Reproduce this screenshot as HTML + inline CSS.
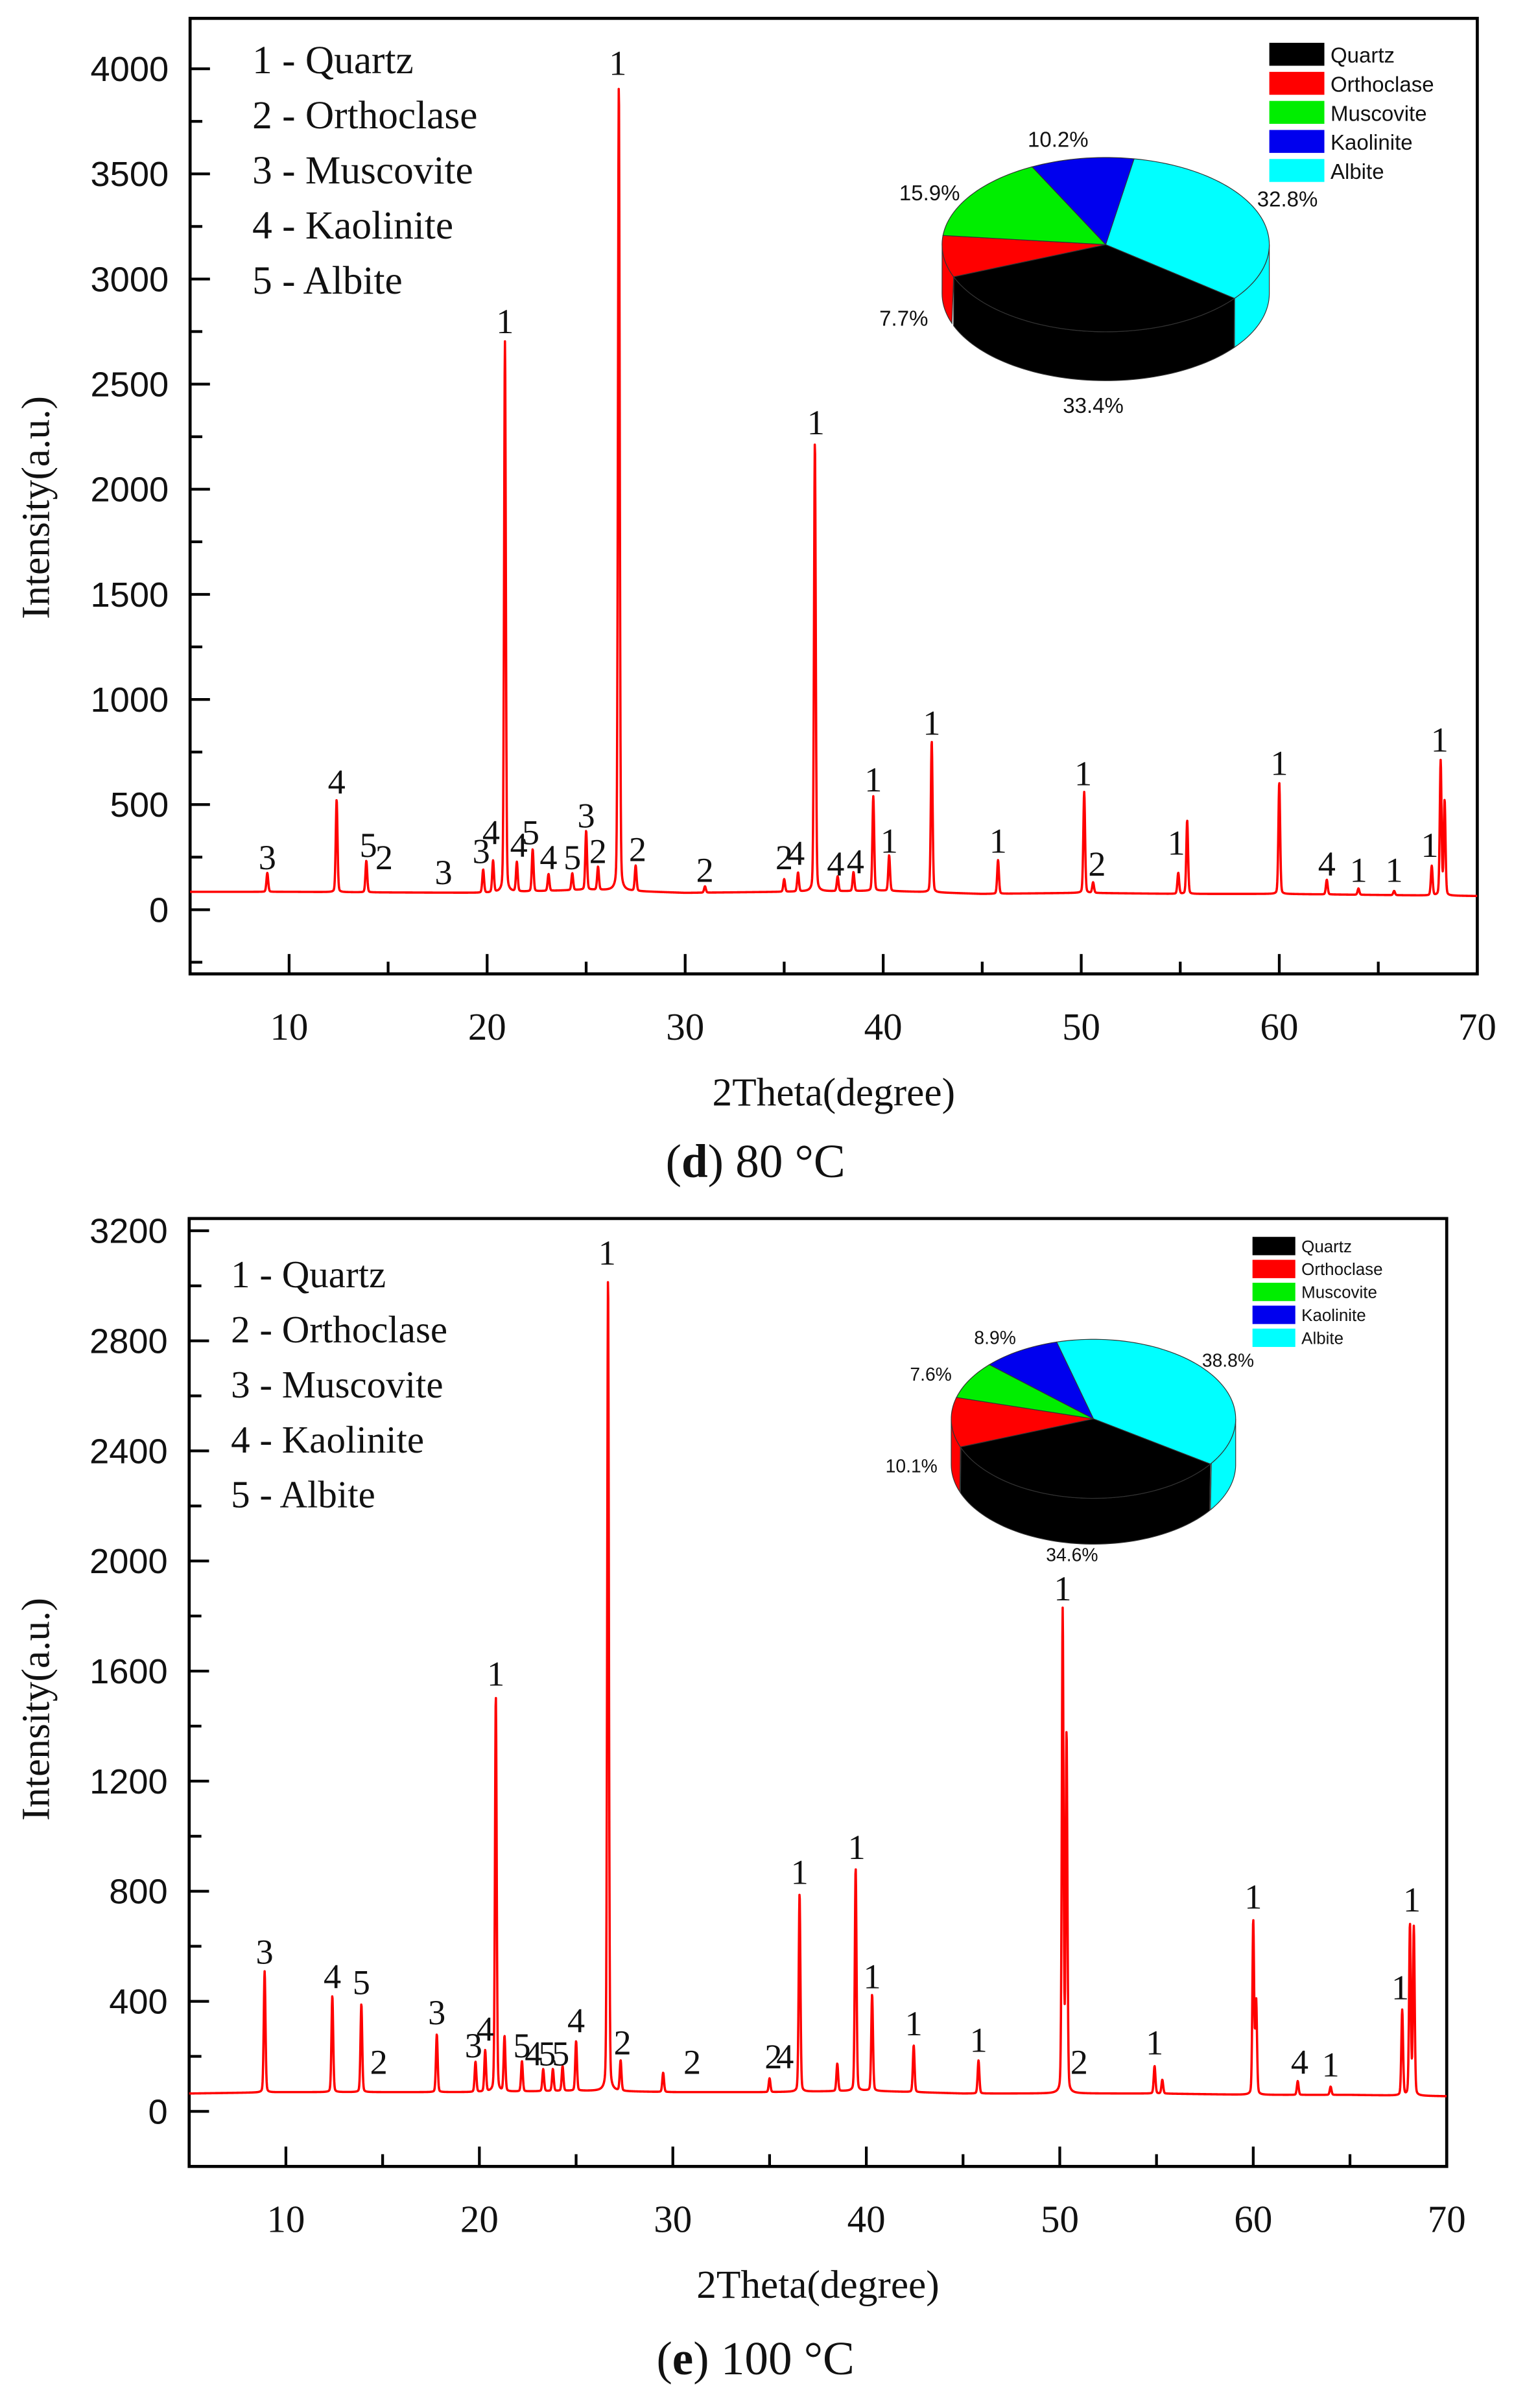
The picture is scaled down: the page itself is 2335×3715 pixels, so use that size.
<!DOCTYPE html>
<html><head><meta charset="utf-8"><style>
html,body{margin:0;padding:0;background:#fff}
svg{display:block}
text{font-family:"Liberation Serif",serif;fill:#111}
.s{font-family:"Liberation Sans",sans-serif}
</style></head><body>
<svg id="fig" width="2335" height="3715" viewBox="0 0 990 1575" preserveAspectRatio="none" xmlns="http://www.w3.org/2000/svg">
<g id="gd"></g>
<g id="ge"></g>
</svg>
<script>
// ---- Chart d data ----
const dPeakPos = [8.9,12.4,13.9,19.8,20.3,20.9,21.5,22.3,23.1,24.3,25.0,25.6,26.65,27.5,31.0,35.0,35.7,36.55,37.7,38.5,39.5,40.3,42.45,45.8,50.15,50.6,54.9,55.35,60.0,62.4,64.0,65.8,67.7,68.15,68.35];
const dPeakInt = [90,440,150,110,150,2620,140,200,80,80,280,110,3840,120,30,60,90,2140,70,90,450,170,720,160,480,50,100,350,530,70,30,20,140,640,450];
const dBaseX = [5,10,15,20,25,30,35,40,45,50,55,60,65,70];
const dBaseY = [85,85,82,80,95,80,85,90,75,80,75,75,70,65];
const dYTicks = [0,500,1000,1500,2000,2500,3000,3500,4000];
const dXTicks = [10,20,30,40,50,60,70];
const dLabelPos = [8.9,12.4,14.0,14.8,17.8,19.7,20.2,20.9,21.6,22.2,23.1,24.3,25.0,25.6,26.6,27.6,31.0,35.0,35.6,36.6,37.6,38.6,39.5,40.3,42.45,45.8,50.1,50.8,54.8,60.0,62.4,64.0,65.8,67.6,68.1];
const dLabelVal = [170,530,230,170,100,200,290,2720,230,290,170,170,370,200,3950,210,110,170,190,2240,140,150,540,250,810,250,570,140,240,620,140,110,110,230,730];
const dLabelTxt = ["3","4","5","2","3","3","4","1","4","5","4","5","3","2","1","2","2","2","4","1","4","4","1","1","1","1","1","2","1","1","4","1","1","1","1"];
const dPieNames = ["Albite","Quartz","Orthoclase","Muscovite","Kaolinite"];
const dPieVals = [32.8,33.4,7.7,15.9,10.2];
// ---- Chart e data ----
const ePeakPos = [8.9,12.4,13.9,17.8,19.8,20.3,20.85,21.3,22.2,23.3,23.8,24.3,25.0,26.65,27.3,29.5,35.0,36.55,38.5,39.45,40.3,42.45,45.8,50.15,50.35,54.9,55.3,60.0,60.15,62.3,64.0,67.7,68.1,68.3];
const ePeakInt = [440,350,320,210,110,150,1440,200,110,80,80,90,180,2960,110,70,50,720,100,810,350,170,120,1750,1300,100,50,630,340,50,30,310,620,610];
const eBaseX = [5,10,15,20,25,30,35,40,45,50,55,60,65,70];
const eBaseY = [65,70,70,70,75,70,70,75,65,65,65,60,60,55];
const eYTicks = [0,400,800,1200,1600,2000,2400,2800,3200];
const eXTicks = [10,20,30,40,50,60,70];
const eLabelPos = [8.9,12.4,13.9,14.8,17.8,19.7,20.3,20.85,22.2,22.8,23.5,24.2,25.0,26.6,27.4,31.0,35.2,35.8,36.55,39.5,40.3,42.45,45.8,50.15,51.0,54.9,60.0,62.4,64.0,67.6,68.2];
const eLabelVal = [520,430,410,120,300,180,240,1530,180,150,150,150,270,3060,190,120,140,140,810,900,430,260,200,1840,120,190,720,120,110,390,710];
const eLabelTxt = ["3","4","5","2","3","3","4","1","5","4","5","5","4","1","2","2","2","4","1","1","1","1","1","1","2","1","1","4","1","1","1"];
const ePieNames = ["Albite","Quartz","Orthoclase","Muscovite","Kaolinite"];
const ePieVals = [38.8,34.6,10.1,7.6,8.9];

const NS="http://www.w3.org/2000/svg";
const colors={Quartz:"#000000",Orthoclase:"#ff0000",Muscovite:"#00ee00",Kaolinite:"#0000ee",Albite:"#00ffff"};
function mk(parent,tag,attrs,txt){const e=document.createElementNS(NS,tag);for(const k in attrs)e.setAttribute(k,attrs[k]);if(txt!==undefined)e.textContent=txt;parent.appendChild(e);return e;}

function drawChart(g,cfg,peakPos,peakInt,baseX,baseY,yTicks,xTicks,lPos,lVal,lTxt,pieNames,pieVals){
  const X=v=>cfg.x0+(v-5)*(cfg.x1-cfg.x0)/65;
  const Y=v=>cfg.yZero-(v)*cfg.yScale;
  const ax=mk(g,'rect',{x:cfg.x0,y:cfg.top,width:cfg.x1-cfg.x0,height:cfg.bot-cfg.top,fill:'none',stroke:'#000','stroke-width':2});
  
  for(let v=10;v<=70;v+=5){const maj=v%10===0;
    mk(g,'line',{x1:X(v),x2:X(v),y1:cfg.bot,y2:cfg.bot-(maj?13:8),stroke:'#000','stroke-width':1.8});}
  xTicks.forEach(v=>{const t=mk(g,'text',{x:X(v),y:cfg.bot+43,'text-anchor':'middle','font-size':25},String(v));
    });
  const step=yTicks[1]-yTicks[0];
  for(let v=yTicks[0]-step/2;v<=yTicks[yTicks.length-1];v+=step/2){const maj=Math.abs((v/step)-Math.round(v/step))<1e-6;
    const yy=Y(v); if(yy>cfg.bot-2||yy<cfg.top)continue;
    mk(g,'line',{x1:cfg.x0,x2:cfg.x0+(maj?13:8),y1:yy,y2:yy,stroke:'#000','stroke-width':1.8});}
  yTicks.forEach(v=>{const t=mk(g,'text',{x:cfg.x0-14,y:Y(v)+8,'text-anchor':'end','font-size':23,class:'s'},String(v));
    });
  function base(x){for(let i=0;i<baseX.length-1;i++){if(x<=baseX[i+1]){const f=(x-baseX[i])/(baseX[i+1]-baseX[i]);return baseY[i]+f*(baseY[i+1]-baseY[i]);}}return baseY[baseY.length-1];}
  let d='';
  for(let x=5;x<=70.001;x+=0.015){let v=base(x);
    for(let i=0;i<peakPos.length;i++){const dx=(x-peakPos[i]);const g1=Math.exp(-dx*dx/(2*0.045*0.045));const l=1/(1+(dx/0.05)*(dx/0.05));v+=peakInt[i]*(0.8*g1+0.2*l);}
    d+=(d?'L':'M')+X(x).toFixed(2)+' '+Y(v).toFixed(2);}
  const p=mk(g,'path',{d:d,fill:'none',stroke:'#ff0000','stroke-width':1.5,'stroke-linejoin':'round'});
  
  for(let i=0;i<lPos.length;i++){const t=mk(g,'text',{x:X(lPos[i]),y:Y(lVal[i])-3,'text-anchor':'middle','font-size':23},lTxt[i]);
    }
  ["1 - Quartz","2 - Orthoclase","3 - Muscovite","4 - Kaolinite","5 - Albite"].forEach((s,i)=>{
    const t=mk(g,'text',{x:cfg.lx,y:cfg.ly+i*36,'font-size':cfg.lfs},s);
    });
  const xt=mk(g,'text',{x:(cfg.x0+cfg.x1)/2,y:cfg.bot+86,'text-anchor':'middle','font-size':26},'2Theta(degree)');
  
  const yt=mk(g,'text',{x:0,y:0,'text-anchor':'middle','font-size':26,transform:`translate(32,${cfg.ytc}) rotate(-90)`},'Intensity(a.u.)');
  
  const cap=mk(g,'text',{x:cfg.capx,y:cfg.capy,'text-anchor':'middle','font-size':31});
  mk(cap,'tspan',{},'(');mk(cap,'tspan',{'font-weight':'bold'},cfg.capL);mk(cap,'tspan',{},')'+cfg.capT);
  
  const pg=mk(g,'g',{});
  const tot=pieVals.reduce((a,b)=>a+b,0);
  const P=cfg.pie; const rad=a=>a*Math.PI/180;
  const pt=(t,dy)=>[P.cx+P.rx*Math.cos(rad(t)),P.cy+dy+P.ry*Math.sin(rad(t))];
  let a=P.start; const slices=[];
  pieVals.forEach((v,i)=>{const s=a,e=a+v/tot*360;slices.push([s,e,pieNames[i]]);a=e;});
  slices.forEach(([s,e,n])=>{
    for(const off of [0,360,-360]){const ss=Math.max(s+off,0),ee=Math.min(e+off,180);if(ee<=ss)continue;
      let dd='';for(let t=ss;t<=ee+0.001;t+=2){const q=pt(Math.min(t,ee),0);dd+=(dd?'L':'M')+q[0]+' '+q[1];}
      for(let t=ee;t>=ss-0.001;t-=2){const q=pt(Math.max(t,ss),P.depth);dd+='L'+q[0]+' '+q[1];}
      mk(pg,'path',{d:dd+'Z',fill:colors[n],stroke:'#333','stroke-width':0.5});}
  });
  slices.forEach(([s,e,n])=>{let dd=`M${P.cx} ${P.cy}`;
    for(let t=s;t<=e+0.001;t+=2){const q=pt(Math.min(t,e),0);dd+='L'+q[0]+' '+q[1];}
    const q=pt(e,0);dd+='L'+q[0]+' '+q[1]+'Z';
    const sl=mk(pg,'path',{d:dd,fill:colors[n],stroke:'#333','stroke-width':0.5});
    });
  cfg.pct.forEach(([x,y,i])=>{const t=mk(pg,'text',{x:x,y:y,'font-size':cfg.pfs,class:'s'},pieVals[i].toFixed(1)+'%');
    });
  ["Quartz","Orthoclase","Muscovite","Kaolinite","Albite"].forEach((n,i)=>{const L=cfg.leg;
    mk(pg,'rect',{x:L.x,y:L.y+i*L.dy,width:L.w,height:L.h,fill:colors[n]});
    const t=mk(pg,'text',{x:L.x+L.w+4,y:L.y+i*L.dy+L.h-2,'font-size':L.fs,class:'s'},n);
    });
}
drawChart(document.getElementById('gd'),{x0:124.3,x1:966,top:12,bot:637,yZero:595,yScale:0.1375,lx:165,ly:48,lfs:26,ytc:332,
  capx:494,capy:770,capL:'d',capT:' 80 °C',
  pie:{cx:723,cy:160,rx:107,ry:57,depth:32,start:-80},
  pct:[[672,96,4],[588,131,3],[822,135,0],[575,213,2],[695,270,1]],pfs:14,
  leg:{x:830,y:28,dy:19,w:36,h:15,fs:14}},
  dPeakPos,dPeakInt,dBaseX,dBaseY,dYTicks,dXTicks,dLabelPos,dLabelVal,dLabelTxt,dPieNames,dPieVals);
drawChart(document.getElementById('ge'),{x0:123.7,x1:946,top:797,bot:1417,yZero:1381,yScale:0.18,lx:151,ly:842,lfs:25,ytc:1118,
  capx:494,capy:1553,capL:'e',capT:' 100 °C',
  pie:{cx:715,cy:928,rx:93,ry:52,depth:30,start:-105},
  pct:[[637,879,4],[595,903,3],[786,894,0],[579,963,2],[684,1021,1]],pfs:12,
  leg:{x:819,y:809,dy:15,w:28,h:12,fs:11}},
  ePeakPos,ePeakInt,eBaseX,eBaseY,eYTicks,eXTicks,eLabelPos,eLabelVal,eLabelTxt,ePieNames,ePieVals);
</script>
</body></html>
